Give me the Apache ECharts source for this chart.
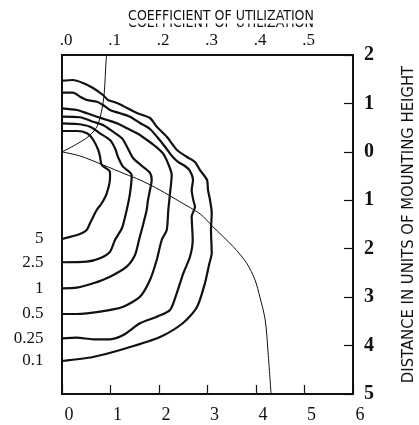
<!doctype html>
<html lang="en">
<head>
	<meta charset="UTF-8">
	<title>Isofootcandle chart</title>
	<style>
		html, body { margin: 0; padding: 0; background: #fff; }
		#main { width: 419px; height: 425px; }
	</style>
</head>
<body>
<div id="main"></div>
<script src="https://cdn.jsdelivr.net/npm/echarts@6/dist/echarts.min.js"></script>
<script type="text/javascript">
	// contour levels, labelled at the left end of each curve
	var contourLevels = ['5', '2.5', '1', '0.5', '0.25', '0.1'];

	// each contour: [distance across, distance along] in mounting heights, house side negative
	var contour5 = [[0, -0.431], [0.309, -0.431], [0.515, -0.383], [0.645, -0.245], [0.748, -0.038], [0.784, 0.100],
		[0.819, 0.271], [0.990, 0.416], [0.990, 0.540], [0.922, 0.856], [0.819, 1.062], [0.715, 1.200],
		[0.645, 1.339], [0.577, 1.475], [0.509, 1.613], [0.371, 1.696], [0, 1.799]];
	var contour2p5 = [[0, -0.590], [0.309, -0.575], [0.577, -0.520], [0.784, -0.383], [0.990, -0.245], [1.093, -0.074],
		[1.155, 0.106], [1.258, 0.306], [1.437, 0.478], [1.402, 0.856], [1.334, 1.200], [1.237, 1.572],
		[1.093, 1.820], [0.990, 2.062], [0.784, 2.198], [0.509, 2.268], [0, 2.280]];
	var contour1 = [[0, -0.726], [0.371, -0.714], [0.639, -0.623], [0.845, -0.555], [1.052, -0.416], [1.237, -0.280],
		[1.340, -0.107], [1.464, 0.127], [1.649, 0.292], [1.814, 0.436], [1.849, 0.581], [1.814, 0.788],
		[1.773, 0.994], [1.746, 1.200], [1.670, 1.510], [1.588, 1.820], [1.505, 2.130], [1.334, 2.371],
		[0.990, 2.578], [0.645, 2.714], [0.303, 2.805], [0, 2.817]];
	var contour0p5 = [[0, -0.899], [0.309, -0.864], [0.515, -0.796], [0.722, -0.726], [0.928, -0.658], [1.134, -0.590],
		[1.340, -0.486], [1.546, -0.383], [1.753, -0.245], [1.918, -0.121], [2.082, 0.030], [2.186, 0.236],
		[2.262, 0.478], [2.227, 0.856], [2.192, 1.200], [2.159, 1.613], [2.056, 1.820], [1.953, 2.233],
		[1.814, 2.646], [1.608, 2.991], [1.264, 3.197], [0.784, 3.300], [0.303, 3.348], [0, 3.348]];
	var contour0p25 = [[0, -1.222], [0.227, -1.222], [0.371, -1.139], [0.515, -1.071], [0.722, -1.036], [0.845, -0.968],
		[0.990, -0.864], [1.196, -0.796], [1.402, -0.726], [1.608, -0.596], [1.814, -0.472], [1.979, -0.286],
		[2.144, -0.080], [2.268, 0.086], [2.392, 0.209], [2.536, 0.292], [2.639, 0.395], [2.701, 0.581],
		[2.674, 0.788], [2.707, 0.994], [2.742, 1.132], [2.674, 1.339], [2.695, 1.820], [2.639, 2.165],
		[2.501, 2.508], [2.365, 2.921], [2.227, 3.265], [1.953, 3.404], [1.608, 3.540], [1.264, 3.782],
		[0.990, 3.870], [0.645, 3.870], [0.303, 3.837], [0, 3.850]];
	var contour0p1 = [[0, -1.469], [0.227, -1.484], [0.433, -1.422], [0.639, -1.319], [0.845, -1.174], [0.948, -1.071],
		[1.134, -1.009], [1.340, -0.906], [1.546, -0.802], [1.814, -0.699], [1.959, -0.513], [2.165, -0.307],
		[2.371, -0.038], [2.577, 0.106], [2.742, 0.209], [2.845, 0.375], [2.990, 0.581], [3.010, 0.788],
		[3.052, 0.994], [3.087, 1.262], [3.072, 1.613], [3.087, 2.088], [3.031, 2.336], [2.948, 2.708],
		[2.784, 3.203], [2.495, 3.534], [2.021, 3.823], [1.340, 4.050], [0.639, 4.236], [0, 4.318]];
	var contours = [contour5, contour2p5, contour1, contour0p5, contour0p25, contour0p1];

	// coefficient of utilization curves: [CU, distance]
	var cuHouse = [[0, 0], [0.027, -0.142], [0.054, -0.313], [0.072, -0.520], [0.082, -0.864], [0.087, -1.209],
		[0.091, -1.897], [0.092, -2]];
	var cuStreet = [[0, 0], [0.037, 0.085], [0.085, 0.271], [0.130, 0.457], [0.161, 0.581], [0.202, 0.788],
		[0.243, 1.029], [0.285, 1.283], [0.311, 1.545], [0.353, 1.958], [0.381, 2.301], [0.398, 2.646],
		[0.408, 2.997], [0.419, 3.472], [0.425, 4.153], [0.431, 5]];

	var ink = '#111';
	var serif = '"Liberation Serif", "DejaVu Serif", serif';
	var narrow = '"Liberation Sans Narrow", "DejaVu Sans Condensed", "Liberation Sans", sans-serif';
	var heading = 'COEFFICIENT OF UTILIZATION';

	var myChart = echarts.init(document.getElementById('main'), null, { renderer: 'canvas' });

	var series = [];
	contours.forEach(function (pts, i) {
		var data = pts.map(function (p, j) {
			if (j === pts.length - 1) {
				return {
					value: p,
					label: {
						show: true, position: 'left', distance: 18,
						formatter: contourLevels[i],
						color: ink, fontFamily: serif, fontSize: 17
					}
				};
			}
			return p;
		});
		series.push({
			name: contourLevels[i],
			type: 'line',
			xAxisIndex: 0,
			yAxisIndex: 0,
			data: data,
			symbol: 'circle',
			symbolSize: 1,
			showSymbol: true,
			itemStyle: { color: ink },
			smooth: 0.25,
			lineStyle: { color: ink, width: 2.2 },
			z: 3
		});
	});
	[cuHouse, cuStreet].forEach(function (pts) {
		series.push({
			type: 'line',
			xAxisIndex: 1,
			yAxisIndex: 0,
			data: pts,
			symbol: 'none',
			smooth: 0.3,
			lineStyle: { color: ink, width: 1 },
			z: 2
		});
	});

	var option = {
		backgroundColor: '#fff',
		animation: false,
		grid: { left: 62, right: 66, top: 55, bottom: 31, outerBoundsMode: 'none' },
		xAxis: [
			{
				type: 'value', position: 'bottom', min: 0, max: 6, interval: 1,
				axisLine: { onZero: false, lineStyle: { color: ink, width: 2 } },
				axisTick: { inside: true, length: 9, lineStyle: { color: ink, width: 1.2 } },
				axisLabel: { color: ink, fontFamily: serif, fontSize: 18, margin: 12, padding: [0, 0, 0, 14] },
				splitLine: { show: false }
			},
			{
				type: 'value', position: 'top', min: 0, max: 0.6, interval: 0.1,
				axisLine: { onZero: false, lineStyle: { color: ink, width: 2 } },
				axisTick: { show: false },
				axisLabel: {
					color: ink, fontFamily: serif, fontSize: 17, margin: 6, padding: [0, 0, 0, 8],
					showMaxLabel: false,
					formatter: function (v) { return '.' + Math.round(v * 10); }
				},
				splitLine: { show: false }
			}
		],
		yAxis: [
			{
				type: 'value', position: 'right', min: -2, max: 5, interval: 1, inverse: true,
				name: 'DISTANCE IN UNITS OF MOUNTING HEIGHT',
				nameLocation: 'middle', nameRotate: 90, nameGap: 47,
				nameTextStyle: { color: ink, fontFamily: narrow, fontSize: 16.5 },
				axisLine: { onZero: false, lineStyle: { color: ink, width: 2 } },
				axisTick: { inside: true, length: 9, lineStyle: { color: ink, width: 1.2 } },
				axisLabel: {
					color: ink, fontFamily: serif, fontSize: 20, fontWeight: 'bold', margin: 11,
					formatter: function (v) { return String(Math.abs(v)); }
				},
				splitLine: { show: false }
			},
			{
				type: 'value', position: 'left', min: -2, max: 5, inverse: true,
				axisLine: { show: true, onZero: false, lineStyle: { color: ink, width: 2 } },
				axisTick: { show: false },
				axisLabel: { show: false },
				splitLine: { show: false }
			}
		],
		graphic: [
			// duplicate of the heading, mostly hidden behind a white strip, as in the scan
			{
				type: 'text', z: 1,
				style: { text: heading, x: 221, y: 16.5, textAlign: 'center', textVerticalAlign: 'top',
					fill: ink, font: '14px ' + narrow }
			},
			{
				type: 'rect', z: 2,
				shape: { x: 110, y: 15, width: 230, height: 8.5 },
				style: { fill: '#fff' }
			},
			{
				type: 'text', z: 3,
				style: { text: heading, x: 221, y: 9, textAlign: 'center', textVerticalAlign: 'top',
					fill: ink, font: '14px ' + narrow }
			}
		],
		series: series
	};
	myChart.setOption(option);
</script>
</body>
</html>
